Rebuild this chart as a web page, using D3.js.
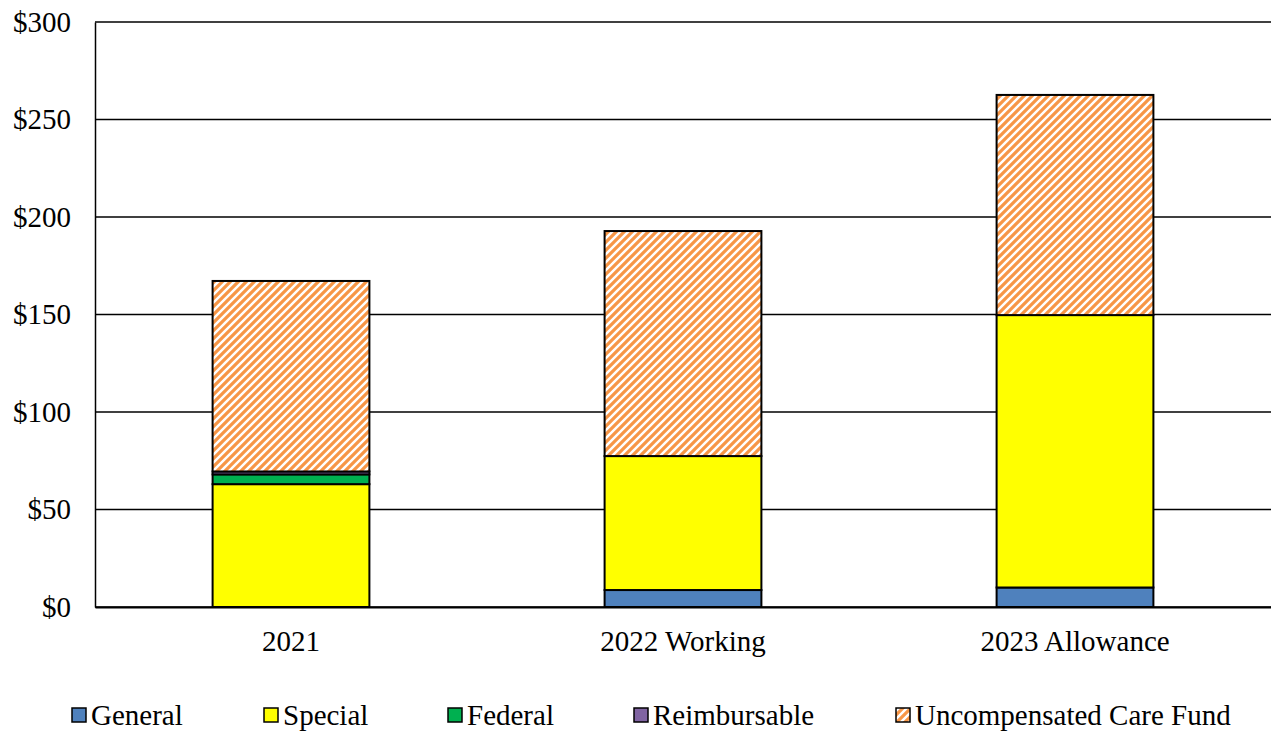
<!DOCTYPE html>
<html><head><meta charset="utf-8">
<script src="https://cdn.jsdelivr.net/npm/d3@7"></script>
<style>body{margin:0;background:#fff;} svg{display:block;}</style>
</head><body>
<svg id="c" width="1271" height="732"></svg>
<script>
const categories = ["2021", "2022 Working", "2023 Allowance"];
const seriesNames = ["General", "Special", "Federal", "Reimbursable", "Uncompensated Care Fund"];
const general = [0, 8.7, 10];
const special = [63, 68.7, 139.7];
const federal = [5, 0, 0];
const reimbursable = [1.5, 0, 0];
const uncompensated = [97.7, 115.4, 112.9];
const yTicks = [0, 50, 100, 150, 200, 250, 300];
const colors = ["#4F81BD", "#FFFF00", "#00B050", "#8064A2", "url(#hatch)"];
const FONT = "'Liberation Serif', 'Times New Roman', serif";
const FS = 29;

const svg = d3.select("#c");
const defs = svg.append("defs");
const pat = defs.append("pattern").attr("id","hatch").attr("patternUnits","userSpaceOnUse")
  .attr("width",8).attr("height",8);
pat.append("rect").attr("width",8).attr("height",8).attr("fill","#fff");
pat.append("path").attr("d","M-2,2 L2,-2 M0,8 L8,0 M6,10 L10,6").attr("stroke","#F79646").attr("stroke-width",3.2);

const m = {l:95, r:1271, t:22, b:607};
const x = d3.scaleBand().domain(categories).range([m.l, m.r]).paddingInner(0.6).paddingOuter(0.3);
const y = d3.scaleLinear().domain([0,300]).range([m.b, m.t]);

const rows = categories.map((c,i)=>({cat:c, General:general[i], Special:special[i], Federal:federal[i], Reimbursable:reimbursable[i], "Uncompensated Care Fund":uncompensated[i]}));
const stacked = d3.stack().keys(seriesNames)(rows);

// gridlines
svg.append("g").selectAll("line").data(yTicks).join("line")
  .attr("x1", m.l).attr("x2", m.r).attr("y1", d=>y(d)).attr("y2", d=>y(d))
  .attr("stroke","#000").attr("stroke-width",1.5);

// y axis labels
const ya = svg.append("g").attr("transform",`translate(${m.l},0)`)
  .call(d3.axisLeft(y).tickValues(yTicks).tickFormat(d=>"$"+d).tickSize(0).tickPadding(24));
ya.select(".domain").attr("stroke","#000").attr("stroke-width",1.5);
ya.selectAll("text").attr("font-family",FONT).attr("font-size",FS).attr("fill","#000");

// bars
svg.append("g").selectAll("g").data(stacked).join("g")
  .attr("fill",(d,i)=>colors[i])
  .selectAll("rect").data(d=>d.filter(p=>p[1]-p[0]>0)).join("rect")
  .attr("x", d=>x(d.data.cat)).attr("width", x.bandwidth())
  .attr("y", d=>y(d[1])).attr("height", d=>y(d[0])-y(d[1]))
  .attr("stroke","#000").attr("stroke-width",2);

// x axis
const xa = svg.append("g").attr("transform",`translate(0,${m.b})`)
  .call(d3.axisBottom(x).tickSize(0).tickPadding(23));
xa.select(".domain").attr("stroke","#000").attr("stroke-width",2);
xa.selectAll("text").attr("font-family",FONT).attr("font-size",FS).attr("fill","#000");

// legend
const legX = [91, 283, 467, 653, 915];
const leg = svg.append("g").selectAll("g").data(seriesNames).join("g")
  .attr("transform",(d,i)=>`translate(${legX[i]},0)`);
leg.append("rect").attr("x",-19).attr("y",708).attr("width",14).attr("height",14).attr("fill",(d,i)=>colors[i])
  .attr("stroke","#000").attr("stroke-width",1.5);
leg.append("text").attr("x",0).attr("y",725).text(d=>d)
  .attr("font-family",FONT).attr("font-size",FS).attr("fill","#000");
</script>
</body></html>
